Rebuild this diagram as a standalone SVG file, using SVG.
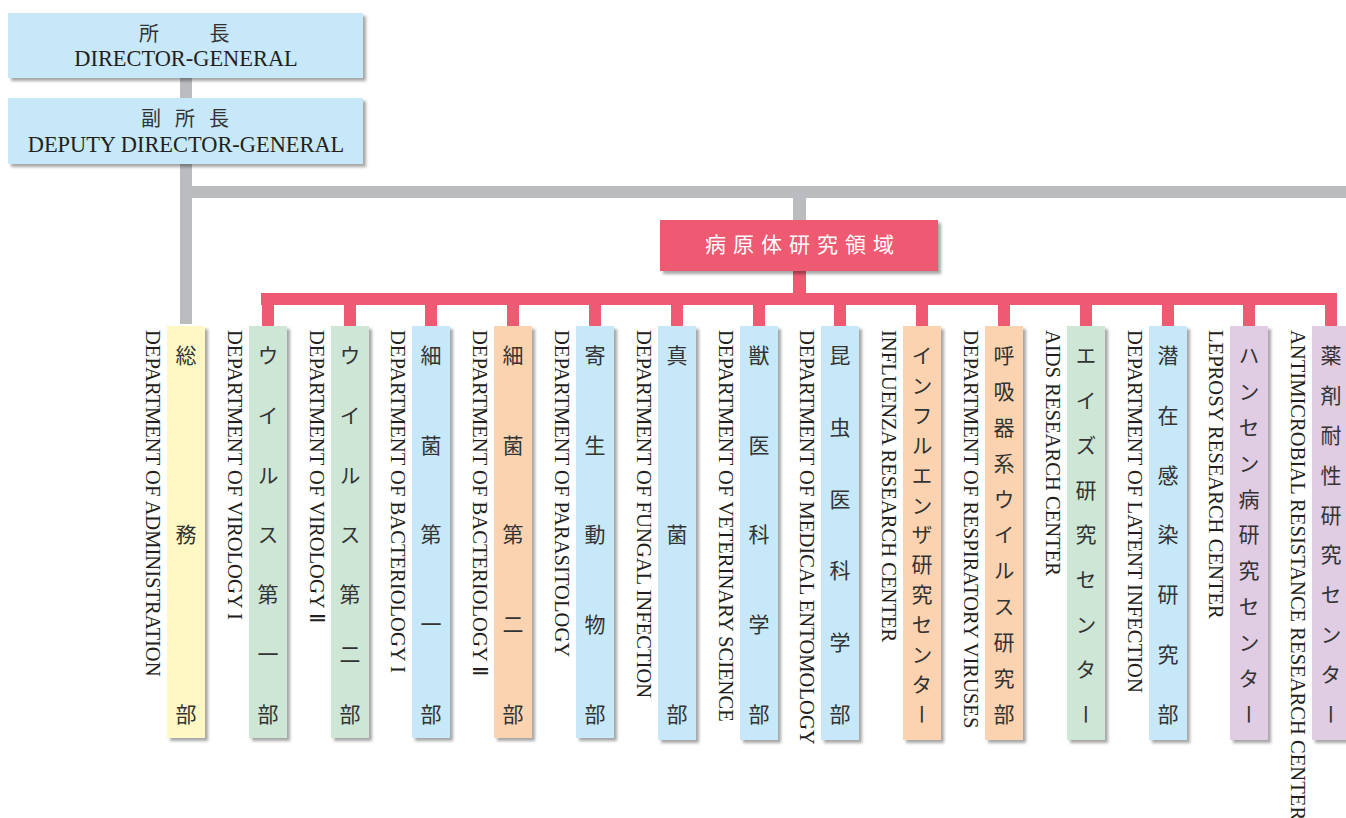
<svg xmlns="http://www.w3.org/2000/svg" width="1346" height="818" viewBox="0 0 1346 818">
<defs>
<filter id="sh" x="-20%" y="-5%" width="140%" height="115%">
<feDropShadow dx="3" dy="3" stdDeviation="1.6" flood-color="#000" flood-opacity="0.35"/>
</filter>
<style>
.bg{fill:#ffffff}
.blue{fill:#c7e8f8;filter:url(#sh)}
.green{fill:#cde6d5;filter:url(#sh)}
.yellow{fill:#fef9c4;filter:url(#sh)}
.orange{fill:#fbd3b0;filter:url(#sh)}
.lav{fill:#e0cce3;filter:url(#sh)}
.pinkbox{fill:#ef5a73;filter:url(#sh)}
.gray{fill:#bbbcbf}
.pink{fill:#ef5a73}
.jp{font-family:"Noto Sans CJK JP","Noto Sans CJK SC",sans-serif;font-size:20px;fill:#333333}
.en{font-family:"Liberation Serif","Times New Roman",serif;font-size:22.4px;fill:#231f20}
.vj{font-family:"Noto Sans CJK JP","Noto Sans CJK SC",sans-serif;font-size:21px;fill:#333333;writing-mode:vertical-rl}
.ve{font-family:"Liberation Serif","Times New Roman",serif;font-size:20.6px;fill:#231f20}
.wj{font-family:"Noto Sans CJK JP","Noto Sans CJK SC",sans-serif;font-size:21px;fill:#ffffff;letter-spacing:7px}
</style>
</defs>
<rect class="bg" x="0" y="0" width="1346" height="818"/>

<g id="connectors">
<rect class="gray" x="180" y="76" width="12" height="24"/>
<rect class="gray" x="180" y="162" width="12" height="162"/>
<rect class="gray" x="180" y="186" width="1166" height="12"/>
<rect class="gray" x="793" y="186" width="13" height="36"/>
<rect class="pink" x="793" y="268" width="13" height="30"/>
<rect class="pink" x="261" y="293" width="1076" height="12"/>
<rect class="pink" x="262" y="293" width="12" height="34"/>
<rect class="pink" x="344" y="293" width="12" height="34"/>
<rect class="pink" x="425" y="293" width="12" height="34"/>
<rect class="pink" x="507" y="293" width="12" height="34"/>
<rect class="pink" x="589" y="293" width="12" height="34"/>
<rect class="pink" x="671" y="293" width="12" height="34"/>
<rect class="pink" x="753" y="293" width="12" height="34"/>
<rect class="pink" x="834" y="293" width="12" height="34"/>
<rect class="pink" x="916" y="293" width="12" height="34"/>
<rect class="pink" x="998" y="293" width="12" height="34"/>
<rect class="pink" x="1080" y="293" width="12" height="34"/>
<rect class="pink" x="1162" y="293" width="12" height="34"/>
<rect class="pink" x="1243" y="293" width="12" height="34"/>
<rect class="pink" x="1325" y="293" width="12" height="34"/>
</g>

<g id="director">
<rect class="blue" x="8" y="13" width="355" height="65"/>
<text class="jp" x="139" y="41" style="letter-spacing:3.5px">所　　長</text>
<text class="en" x="186" y="66" text-anchor="middle">DIRECTOR-GENERAL</text>
</g>

<g id="deputy">
<rect class="blue" x="8" y="98" width="355" height="66"/>
<text class="jp" x="141" y="126" style="letter-spacing:14px">副所長</text>
<text class="en" x="186" y="152" text-anchor="middle">DEPUTY DIRECTOR-GENERAL</text>
</g>

<g id="pathogen">
<rect class="pinkbox" x="660" y="220" width="278" height="51"/>
<text class="wj" x="705" y="252">病原体研究領域</text>
</g>

<g id="admin">
<rect class="yellow" x="167" y="326" width="38" height="412"/>
<text class="vj" x="186" y="344.5 524 703.5">総務部</text>
<text class="ve" transform="translate(146,330) rotate(90)">DEPARTMENT OF ADMINISTRATION</text>
</g>

<g id="virology1">
<rect class="green" x="249" y="326" width="38" height="412"/>
<text class="vj" x="268" y="344.5" style="letter-spacing:38.83px">ウイルス第一部</text>
<text class="ve" transform="translate(228,330) rotate(90)">DEPARTMENT OF VIROLOGY I</text>
</g>

<g id="virology2">
<rect class="green" x="331" y="326" width="38" height="412"/>
<text class="vj" x="350" y="344.5" style="letter-spacing:38.83px">ウイルス第二部</text>
<text class="ve" transform="translate(310,330) rotate(90)">DEPARTMENT OF VIROLOGY Ⅱ</text>
</g>

<g id="bacteriology1">
<rect class="blue" x="412" y="326" width="38" height="412"/>
<text class="vj" x="431" y="344.5" style="letter-spacing:68.75px">細菌第一部</text>
<text class="ve" transform="translate(391,330) rotate(90)">DEPARTMENT OF BACTERIOLOGY I</text>
</g>

<g id="bacteriology2">
<rect class="orange" x="494" y="326" width="38" height="412"/>
<text class="vj" x="513" y="344.5" style="letter-spacing:68.75px">細菌第二部</text>
<text class="ve" transform="translate(473,330) rotate(90)">DEPARTMENT OF BACTERIOLOGY Ⅱ</text>
</g>

<g id="parasitology">
<rect class="blue" x="576" y="326" width="38" height="412"/>
<text class="vj" x="595" y="344.5" style="letter-spacing:68.75px">寄生動物部</text>
<text class="ve" transform="translate(555,330) rotate(90)">DEPARTMENT OF PARASITOLOGY</text>
</g>

<g id="fungal">
<rect class="blue" x="658" y="326" width="38" height="414"/>
<text class="vj" x="677" y="344.5 524 703.5">真菌部</text>
<text class="ve" transform="translate(637,330) rotate(90)">DEPARTMENT OF FUNGAL INFECTION</text>
</g>

<g id="veterinary">
<rect class="blue" x="740" y="326" width="38" height="414"/>
<text class="vj" x="759" y="344.5" style="letter-spacing:68.75px">獣医科学部</text>
<text class="ve" transform="translate(719,330) rotate(90)">DEPARTMENT OF VETERINARY SCIENCE</text>
</g>

<g id="entomology">
<rect class="blue" x="821" y="326" width="38" height="414"/>
<text class="vj" x="840" y="344.5" style="letter-spacing:50.8px">昆虫医科学部</text>
<text class="ve" transform="translate(800,330) rotate(90)">DEPARTMENT OF MEDICAL ENTOMOLOGY</text>
</g>

<g id="influenza">
<rect class="orange" x="903" y="326" width="38" height="414"/>
<text class="vj" x="922" y="344.5" style="letter-spacing:8.92px">インフルエンザ研究センター</text>
<text class="ve" transform="translate(882,330) rotate(90)">INFLUENZA RESEARCH CENTER</text>
</g>

<g id="respiratory">
<rect class="orange" x="985" y="326" width="38" height="414"/>
<text class="vj" x="1004" y="344.5" style="letter-spacing:14.9px">呼吸器系ウイルス研究部</text>
<text class="ve" transform="translate(964,330) rotate(90)">DEPARTMENT OF RESPIRATORY VIRUSES</text>
</g>

<g id="aids">
<rect class="green" x="1067" y="326" width="38" height="414"/>
<text class="vj" x="1086" y="344.5" style="letter-spacing:23.875px">エイズ研究センター</text>
<text class="ve" transform="translate(1046,330) rotate(90)">AIDS RESEARCH CENTER</text>
</g>

<g id="latent">
<rect class="blue" x="1149" y="326" width="38" height="414"/>
<text class="vj" x="1168" y="344.5" style="letter-spacing:38.83px">潜在感染研究部</text>
<text class="ve" transform="translate(1128,330) rotate(90)">DEPARTMENT OF LATENT INFECTION</text>
</g>

<g id="leprosy">
<rect class="lav" x="1230" y="326" width="38" height="414"/>
<text class="vj" x="1249" y="344.5" style="letter-spacing:14.9px">ハンセン病研究センター</text>
<text class="ve" transform="translate(1209,330) rotate(90)">LEPROSY RESEARCH CENTER</text>
</g>

<g id="antimicrobial">
<rect class="lav" x="1312" y="326" width="38" height="414"/>
<text class="vj" x="1331" y="344.5" style="letter-spacing:18.89px">薬剤耐性研究センター</text>
<text class="ve" transform="translate(1291,330) rotate(90)">ANTIMICROBIAL RESISTANCE RESEARCH CENTER</text>
</g>
</svg>
